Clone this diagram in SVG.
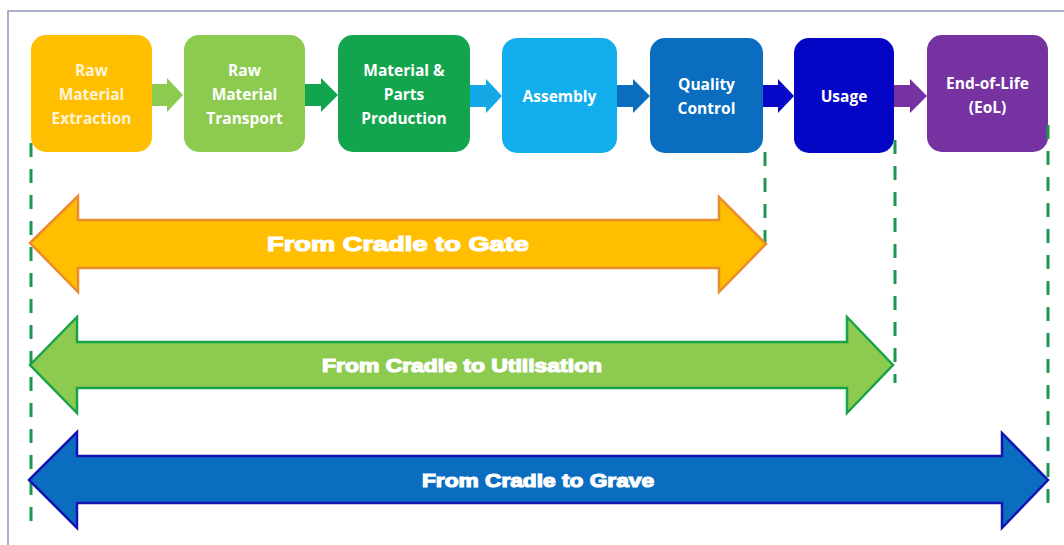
<svg xmlns="http://www.w3.org/2000/svg" width="1064" height="545" viewBox="0 0 1064 545">
<style>
.box{stroke:none}
.bt{font-family:"Open Sans","Liberation Sans",sans-serif;font-weight:700;font-size:15.5px;fill:#FFFFFF;text-anchor:middle}
.dash{stroke:#1E9650;stroke-width:3;stroke-dasharray:14 12;fill:none}
.big{font-family:"Liberation Sans",Arial,sans-serif;font-weight:bold;fill:#FFFFFF;stroke:#FFFFFF;stroke-width:1.2;text-anchor:middle}
</style>
<rect x="0" y="0" width="1064" height="545" fill="#FFFFFF"/>
<path d="M8 545 V11 H1064" fill="none" stroke="#8D97B5" stroke-width="1.5"/>

<g id="connectors">
<polygon points="152,84 167,84 167,78 183,95 167,112 167,106 152,106" fill="#8DCB50"/>
<polygon points="305,84 321,84 321,78 338,95 321,112 321,106 305,106" fill="#12A54D"/>
<polygon points="470,85 486,85 486,79 502,96 486,113 486,107 470,107" fill="#12A9E6"/>
<polygon points="617,85 633,85 633,79 650,96 633,113 633,107 617,107" fill="#0A6DC0"/>
<polygon points="763,85 778,85 778,79 794,96 778,113 778,107 763,107" fill="#0808C8"/>
<polygon points="894,85 910,85 910,79 927,96 910,113 910,107 894,107" fill="#7532A0"/>
</g>

<g id="n1"><rect class="box" x="31" y="35" width="121" height="117" rx="15" fill="#FFBF00"/>
<text class="bt" x="91.5" y="76" style="fill:#FFF4D8">Raw</text>
<text class="bt" x="91.5" y="100" style="fill:#FFF4D8">Material</text>
<text class="bt" x="91.5" y="124" style="fill:#FFF4D8">Extraction</text></g>

<g id="n2"><rect class="box" x="184" y="35" width="121" height="117" rx="15" fill="#8DCB50"/>
<text class="bt" x="244.5" y="76">Raw</text>
<text class="bt" x="244.5" y="100">Material</text>
<text class="bt" x="244.5" y="124">Transport</text></g>

<g id="n3"><rect class="box" x="338" y="35" width="132" height="117" rx="15" fill="#12A54D"/>
<text class="bt" x="404" y="76">Material &amp;</text>
<text class="bt" x="404" y="100">Parts</text>
<text class="bt" x="404" y="124">Production</text></g>

<g id="n4"><rect class="box" x="502" y="38" width="115" height="115" rx="15" fill="#12AEEC"/>
<text class="bt" x="559.5" y="102">Assembly</text></g>

<g id="n5"><rect class="box" x="650" y="38" width="113" height="115" rx="15" fill="#0A6DC0"/>
<text class="bt" x="706.5" y="90">Quality</text>
<text class="bt" x="706.5" y="114">Control</text></g>

<g id="n6"><rect class="box" x="794" y="38" width="100" height="115" rx="15" fill="#0505C6"/>
<text class="bt" x="844" y="102">Usage</text></g>

<g id="n7"><rect class="box" x="927" y="35" width="121" height="117" rx="15" fill="#7532A0"/>
<text class="bt" x="987.5" y="89">End-of-Life</text>
<text class="bt" x="987.5" y="113">(EoL)</text></g>

<g id="guides">
<line class="dash" x1="31" y1="143" x2="31" y2="525"/>
<line class="dash" x1="765" y1="152" x2="765" y2="243"/>
<line class="dash" x1="895" y1="140" x2="895" y2="383"/>
<line class="dash" x1="1048" y1="125" x2="1048" y2="504"/>
</g>

<g id="gate">
<polygon points="30,243 78,196 78,220 719,220 719,197 766,244 719,292 719,268 78,268 78,292" fill="#FFBF00" stroke="#EC8A2E" stroke-width="2.5"/>
<text class="big" x="398" y="251" font-size="21" textLength="262" lengthAdjust="spacingAndGlyphs">From Cradle to Gate</text>
</g>

<g id="utilisation">
<polygon points="30,365 77,317 77,342 847,342 847,317 893,365 847,413 847,388 77,388 77,413" fill="#8DCB50" stroke="#18A34A" stroke-width="2.5"/>
<text class="big" x="462" y="372" font-size="19" textLength="280" lengthAdjust="spacingAndGlyphs">From Cradle to Utilisation</text>
</g>

<g id="grave">
<polygon points="29,480 77,432 77,456 1002,456 1002,433 1048,480 1002,528 1002,503 77,503 77,528" fill="#0A6DC0" stroke="#1414B0" stroke-width="2.5"/>
<text class="big" x="538" y="487" font-size="19" textLength="232" lengthAdjust="spacingAndGlyphs">From Cradle to Grave</text>
</g>
</svg>
